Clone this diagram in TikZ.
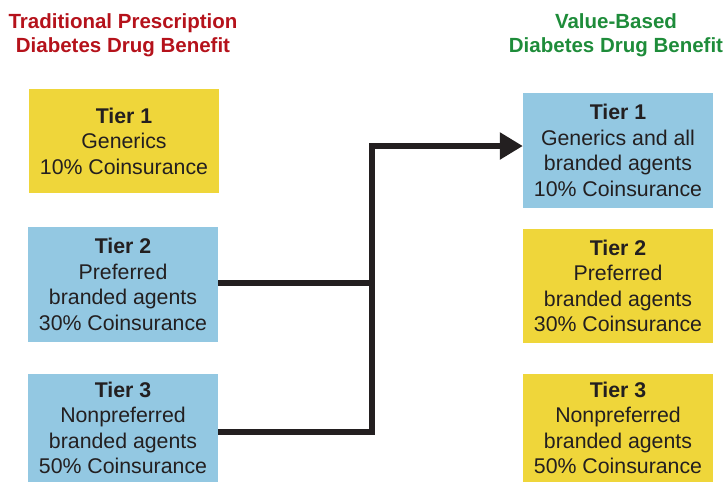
\documentclass[tikz,border=0pt]{standalone}
\usepackage{fontspec}
\setmainfont{Liberation Sans}
\usetikzlibrary{arrows.meta}
\definecolor{tred}{HTML}{B5121B}
\definecolor{tgreen}{HTML}{1E8C3A}
\definecolor{tyellow}{HTML}{EFD63A}
\definecolor{tblue}{HTML}{93C8E2}
\definecolor{tdark}{HTML}{231F20}
\tikzset{
  x=1pt,y=1pt,
  tierbox/.style={inner sep=0pt, minimum width=190pt, align=center, text=tdark,
    font=\fontsize{21.3}{25.5}\selectfont},
  yellowbox/.style={tierbox, fill=tyellow},
  bluebox/.style={tierbox, fill=tblue},
  titletext/.style={inner sep=0pt, align=center, font=\fontsize{20.5}{24}\selectfont\bfseries},
  conn/.style={draw=tdark, line width=5.5pt, line join=miter, line cap=butt},
}
\begin{document}
\begin{tikzpicture}
\useasboundingbox (0,0) rectangle (727,-483);
\node[titletext, text=tred, anchor=north] (lt) at (123,-13) {Traditional Prescription\\Diabetes Drug Benefit};
\node[titletext, text=tgreen, anchor=north] (rt) at (616,-13) {Value-Based\\Diabetes Drug Benefit};

\node[yellowbox, minimum height=104pt] (L1) at (124,-141) {\textbf{Tier 1}\\Generics\\10\% Coinsurance};
\node[bluebox, minimum height=115pt] (L2) at (123,-284.5) {\textbf{Tier 2}\\Preferred\\branded agents\\30\% Coinsurance};
\node[bluebox, minimum height=108pt] (L3) at (123,-428) {\textbf{Tier 3}\\Nonpreferred\\branded agents\\50\% Coinsurance};

\node[bluebox, minimum height=115pt] (R1) at (618,-150.5) {\textbf{Tier 1}\\Generics and all\\branded agents\\10\% Coinsurance};
\node[yellowbox, minimum height=114pt] (R2) at (618,-286) {\textbf{Tier 2}\\Preferred\\branded agents\\30\% Coinsurance};
\node[yellowbox, minimum height=108pt] (R3) at (618,-428) {\textbf{Tier 3}\\Nonpreferred\\branded agents\\50\% Coinsurance};

\coordinate (J) at (372,-283);
\coordinate (T) at (372,-146);
\draw[conn] ([yshift=1.5pt]L2.east) -- (J);
\draw[conn, -{Triangle[length=23pt,width=26pt]}] ([yshift=-4pt]L3.east) -| (T) -- (R1.west |- T);
\end{tikzpicture}
\end{document}
